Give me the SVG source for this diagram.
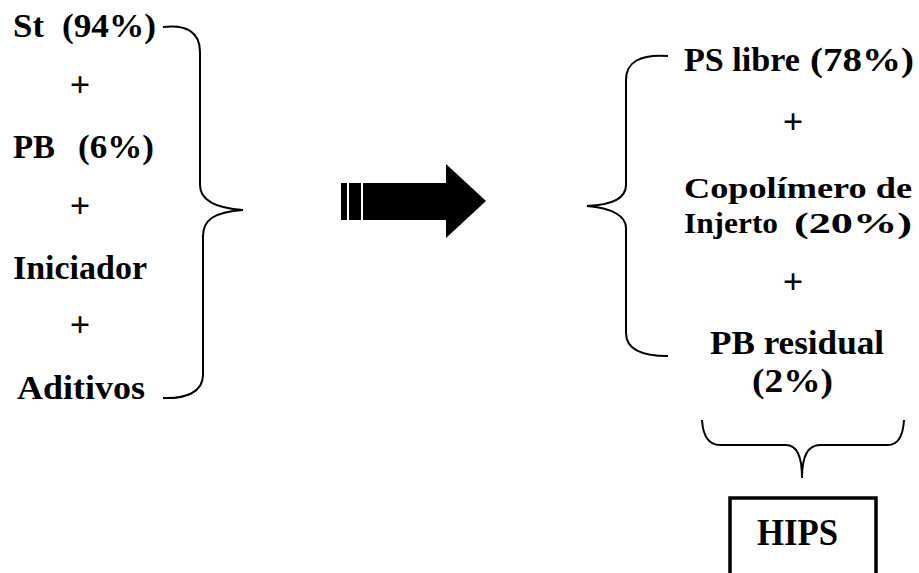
<svg xmlns="http://www.w3.org/2000/svg" width="919" height="573" viewBox="0 0 919 573">
<style>
text{font-family:"Liberation Serif","Times New Roman",serif;font-weight:bold;font-size:34px;fill:#000}
.plus{text-anchor:middle;font-size:36px}
.tight{font-size:30px}
.brace{fill:none;stroke:#000;stroke-width:2}
</style>
<rect width="919" height="573" fill="#fff"/>
<g id="left">
<g id="st"><text x="13" y="37" textLength="31" lengthAdjust="spacingAndGlyphs">St</text><text x="62" y="37" textLength="94" lengthAdjust="spacingAndGlyphs">(94%)</text></g>
<text class="plus" x="80" y="97">+</text>
<g id="pb"><text x="13" y="158" textLength="42" lengthAdjust="spacingAndGlyphs">PB</text><text x="78" y="158" textLength="76" lengthAdjust="spacingAndGlyphs">(6%)</text></g>
<text class="plus" x="80" y="218">+</text>
<g id="iniciador"><text x="13" y="279" textLength="134" lengthAdjust="spacingAndGlyphs">Iniciador</text></g>
<text class="plus" x="80" y="337">+</text>
<g id="aditivos"><text x="17" y="399" textLength="128" lengthAdjust="spacingAndGlyphs">Aditivos</text></g>
</g>
<g id="connectors">
<path class="brace" d="M163,27 C186,24 200,32 200,52 L200,185 C200,200 214,208 243,210 C214,212 203,220 203,236 L203,375 C203,392 186,399 163,398"/>
<path class="brace" d="M668,56 C640,54 626,62 626,80 L626,185 C626,198 612,205 587,206 C612,208 626,216 626,228 L626,333 C626,348 640,356 668,356"/>
<path class="brace" d="M702,420 C703,436 708,445 720,445 L786,445 C797,445 802,458 802,478 C802,458 807,445 820,445 L888,445 C898,445 903,436 904,420"/>
<g id="arrow">
<rect x="341" y="183" width="6" height="37" fill="#000"/>
<rect x="349" y="183" width="12" height="37" fill="#000"/>
<rect x="363" y="183" width="84" height="37" fill="#000"/>
<polygon points="446,164 486,201 446,238" fill="#000"/>
</g>
</g>
<g id="right">
<g id="ps"><text x="684" y="71" textLength="116" lengthAdjust="spacingAndGlyphs">PS libre</text><text x="810" y="71" textLength="104" lengthAdjust="spacingAndGlyphs">(78%)</text></g>
<text class="plus" x="793" y="134">+</text>
<g id="copolimero"><text class="tight" x="684" y="198" textLength="228" lengthAdjust="spacingAndGlyphs">Copolímero de</text><text class="tight" x="684" y="233" textLength="94" lengthAdjust="spacingAndGlyphs">Injerto</text><text class="tight" x="794" y="233" textLength="118" lengthAdjust="spacingAndGlyphs">(20%)</text></g>
<text class="plus" x="793" y="294">+</text>
<g id="pbres"><text x="710" y="354" textLength="174" lengthAdjust="spacingAndGlyphs">PB residual</text><text x="752" y="392" textLength="81" lengthAdjust="spacingAndGlyphs">(2%)</text></g>
</g>
<g id="hips">
<rect x="730" y="498" width="146" height="95" fill="none" stroke="#000" stroke-width="3.5"/>
<text x="757" y="545" textLength="81" lengthAdjust="spacingAndGlyphs" style="font-size:38px">HIPS</text>
</g>
</svg>
